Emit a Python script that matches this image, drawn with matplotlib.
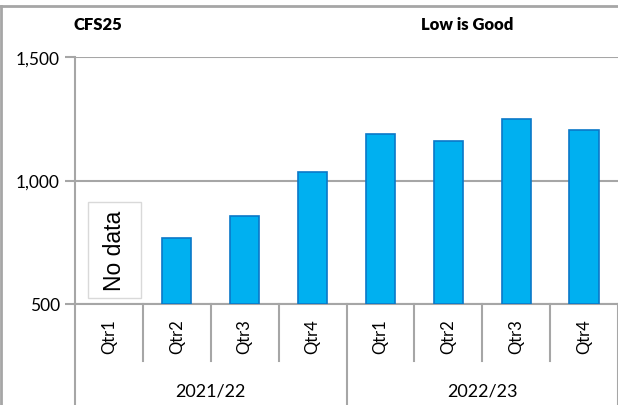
import matplotlib
matplotlib.use("Agg")
import matplotlib.pyplot as plt
from matplotlib.lines import Line2D
from matplotlib.patches import Rectangle
from matplotlib.ticker import FuncFormatter

# data
years = ['2021/22', '2022/23']
quarters = ['Qtr1', 'Qtr2', 'Qtr3', 'Qtr4']
values = [None, 766, 855, 1036, 1190, 1161, 1250, 1206]
no_data_text = 'No data'
title_left = 'CFS25'
title_right = 'Low is Good'

W, H = 618, 406
grey = '#A6A6A6'
bar_col = '#00B0F0'
edge_col = '#0A78C8'
lab_font = ['Lato', 'DejaVu Sans']

fig = plt.figure(figsize=(W / 100, H / 100), dpi=100)
left, top, bottom = 75, 58, 305
ax = fig.add_axes([left / W, (H - bottom) / H, (W - left) / W, (bottom - top) / H])

n = len(values)
xs = [i + 0.5 for i in range(n)]
for x, v in zip(xs, values):
    if v is not None:
        ax.bar(x, v - 500, bottom=500, width=0.43, color=bar_col,
               edgecolor=edge_col, linewidth=1.2, zorder=3)

ax.set_xlim(0, n)
ax.set_ylim(500, 1500)
ax.set_yticks([500, 1000, 1500])
ax.yaxis.set_major_formatter(FuncFormatter(lambda v, p: f'{int(v):,}'))
ax.set_xticks([])
ax.grid(axis='y', color=grey, linewidth=1.5, zorder=0)
for s in ['top', 'right']:
    ax.spines[s].set_visible(False)
for s in ['left', 'bottom']:
    ax.spines[s].set_color(grey)
    ax.spines[s].set_linewidth(1.5)
ax.tick_params(axis='y', length=7, width=1.5, color=grey, pad=4, labelsize=12.5)
for t in ax.get_yticklabels():
    t.set_family(lab_font)

# "No data" box in the first slot
ax.add_patch(Rectangle((xs[0] - 0.31, 524), 0.78, 387, facecolor='white',
                       edgecolor='#D9D9D9', linewidth=1, zorder=4))
ax.text(xs[0] + 0.08, 718, no_data_text, rotation=90, ha='center', va='center',
        fontsize=16.5, family=['Liberation Sans', 'DejaVu Sans'], zorder=5)

# category axis (two levels)
px = 1 / (bottom - top)
minor_end = -(362 - bottom) * px
major_end = -(H - bottom) * px
for i in range(n + 1):
    major = i % len(quarters) == 0
    ax.add_line(Line2D([i, i], [0, major_end if major else minor_end], color=grey, linewidth=1.5,
                       transform=ax.get_xaxis_transform(), clip_on=False))
for i, x in enumerate(xs):
    ax.text(x, -(337 - bottom) * px, quarters[i % len(quarters)], rotation=90, ha='center', va='center',
            fontsize=12, family=lab_font, transform=ax.get_xaxis_transform())
for j, yr in enumerate(years):
    ax.text(j * len(quarters) + len(quarters) / 2, -(392 - bottom) * px, yr, ha='center', va='center',
            fontsize=13, family=lab_font, transform=ax.get_xaxis_transform())

# outer chart border (top and left)
fig.add_artist(Line2D([1 / W, 1], [1 - 7 / H, 1 - 7 / H], color=grey, linewidth=2, transform=fig.transFigure))
fig.add_artist(Line2D([1.5 / W, 1.5 / W], [0, 1 - 7 / H], color=grey, linewidth=2, transform=fig.transFigure))

fig.text(73 / W, 1 - 25 / H, title_left, ha='left', va='center', fontsize=12, fontweight='heavy', family=lab_font)
fig.text(467 / W, 1 - 25 / H, title_right, ha='center', va='center', fontsize=12, fontweight='heavy', family=lab_font)

fig.savefig('out.png', dpi=100)
